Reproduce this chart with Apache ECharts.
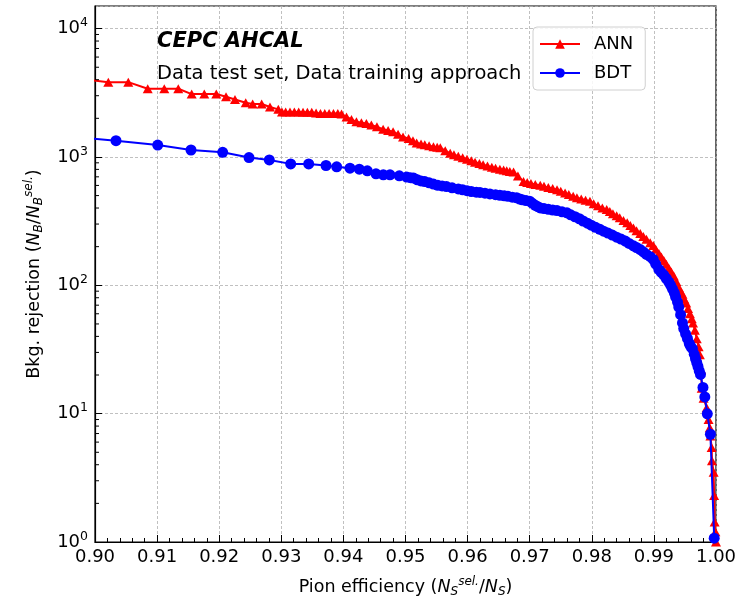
<!DOCTYPE html>
<html>
<head>
<meta charset="utf-8">
<title>CEPC AHCAL ROC</title>
<script src="https://cdn.jsdelivr.net/npm/echarts@6.0.0/dist/echarts.min.js"></script>
<style>
  html, body { margin: 0; padding: 0; background: #fff; }
  #main { width: 756px; height: 603px; }
</style>
</head>
<body>
<div id="main"></div>
<script>
// ANN: pion efficiency / bkg rejection
var annEff = [0.8990, 0.90214, 0.90536, 0.90849, 0.91116, 0.91341, 0.91557, 0.91760, 0.91953, 0.92110,
  0.92254, 0.92427, 0.92539, 0.92684, 0.92818, 0.92952, 0.93011, 0.9307, 0.9314, 0.9321, 0.9328,
  0.9335, 0.9342, 0.9349, 0.9356, 0.9363, 0.9370, 0.9377, 0.9384, 0.9391, 0.9397,
  0.9405, 0.9413, 0.9421, 0.9429, 0.9437, 0.9445, 0.9454, 0.9464, 0.9472, 0.9480,
  0.9488, 0.9496, 0.9505, 0.9512, 0.9518, 0.9525, 0.9531, 0.9538, 0.9545, 0.9551,
  0.9556, 0.9564, 0.9572, 0.9578, 0.9585, 0.9592, 0.9599, 0.9606, 0.9612, 0.9619,
  0.9625, 0.9632, 0.9639, 0.9645, 0.9652, 0.9658, 0.9663, 0.9668, 0.9674, 0.9681,
  0.9690, 0.9696, 0.9702, 0.9709, 0.9717, 0.9723, 0.9730, 0.9737, 0.9744, 0.9750,
  0.9757, 0.9763, 0.9770, 0.9776, 0.9783, 0.9790, 0.9797, 0.9803, 0.9810, 0.9817,
  0.9824, 0.9829, 0.9834, 0.9840, 0.9845, 0.9851, 0.9857, 0.9862, 0.9867, 0.9872,
  0.9878, 0.9883, 0.9888, 0.9894, 0.9899, 0.9903, 0.9908, 0.9912, 0.9916, 0.9920,
  0.9924, 0.9928, 0.9932, 0.9936, 0.9940, 0.9943, 0.9946, 0.9949, 0.9952, 0.9955,
  0.9958, 0.9961, 0.9963, 0.9966, 0.9969, 0.9972, 0.9974, 0.9976, 0.9977, 0.9980,
  0.9985, 0.9988, 0.9990, 0.9991, 0.9993, 0.99935, 0.99962, 0.99970, 0.99978, 0.99990, 1.0000];
var annRej = [3990, 3825, 3825, 3396, 3396, 3396, 3090, 3090, 3090, 2945,
  2807, 2647, 2587, 2587, 2452, 2349, 2243, 2243, 2243, 2240, 2235,
  2230, 2230, 2225, 2200, 2185, 2180, 2180, 2180, 2176, 2160,
  2052, 1960, 1877, 1850, 1821, 1770, 1717, 1646, 1610, 1572,
  1500, 1430, 1395, 1340, 1283, 1262, 1243, 1222, 1203, 1190,
  1178, 1120, 1068, 1040, 1013, 985, 960, 935, 910, 888,
  868, 850, 833, 818, 803, 792, 782, 772, 762, 709,
  645, 632, 621, 611, 601, 590, 578, 567, 556, 540,
  524, 509, 494, 482, 471, 460, 452, 432, 416, 400,
  389, 375, 361, 348, 336, 320, 307, 293, 279, 266,
  253, 240, 228, 215, 204, 191, 177, 166, 156, 146,
  136, 127, 118, 107, 96.7, 90, 85.3, 78, 72.7, 66,
  60.1, 55, 50.9, 44.7, 38.3, 33.2, 28.8, 22.1, 15.8, 13.2,
  11.1, 9.02, 7.77, 6.70, 5.44, 4.30, 3.49, 2.30, 1.43, 1.20, 1.00];

// BDT
var bdtEff = [0.8985, 0.90338, 0.91010, 0.91546, 0.92056, 0.92480, 0.92807, 0.93151, 0.93441, 0.93720,
  0.93892, 0.94106, 0.94256, 0.94385, 0.94525, 0.94643, 0.94750, 0.94900, 0.95019,
  0.9508, 0.9513, 0.9519, 0.9525, 0.9531, 0.9538, 0.9545, 0.9552, 0.9559, 0.9566,
  0.9575, 0.9585, 0.9592, 0.9599, 0.9606, 0.9614, 0.9620, 0.9628, 0.9636, 0.9645,
  0.9652, 0.9659, 0.9665, 0.9672, 0.9679, 0.9684, 0.9688, 0.9694, 0.9700, 0.9704,
  0.9709, 0.9713, 0.9717, 0.9723, 0.9730, 0.9737, 0.9744, 0.9752, 0.9760, 0.9766,
  0.9773, 0.9780, 0.9786, 0.9793, 0.9799, 0.9806, 0.9813, 0.9819, 0.9826, 0.9833,
  0.9840, 0.9847, 0.9854, 0.9860, 0.9867, 0.9872, 0.9878, 0.9883, 0.9888, 0.9894,
  0.9899, 0.9903, 0.9908, 0.9912, 0.9916, 0.9920, 0.9924, 0.9927, 0.9930, 0.9933,
  0.9935, 0.9938, 0.9940, 0.9943, 0.9946, 0.9948, 0.9951, 0.9954, 0.9957, 0.9959,
  0.9962, 0.9965, 0.9967, 0.9969, 0.9971, 0.9973, 0.9975, 0.9979, 0.9982, 0.9986,
  0.9991, 0.99971];
var bdtRej = [1405, 1339, 1238, 1133, 1087, 989, 948, 883, 883, 858,
  837, 818, 803, 779, 739, 726, 726, 713, 697,
  690, 685, 664, 650, 643, 629, 615, 601, 595, 588,
  575, 563, 555, 546, 538, 532, 529, 522, 515, 508,
  503, 498, 493, 486, 480, 470, 463, 457, 452, 436,
  420, 410, 401, 396, 391, 386, 382, 374, 367, 354,
  342, 330, 317, 305, 294, 283, 273, 264, 255, 246,
  237, 229, 221, 212, 203, 197, 190, 182, 174, 167,
  159, 146, 133, 126, 120, 113, 106, 100, 93.3, 87,
  80.9, 74, 67.7, 59, 50.9, 46, 41.9, 38.5, 35.2, 33.5,
  32.1, 29, 26.8, 25, 23.3, 21.5, 20.2, 16.0, 13.5, 9.97,
  6.91, 1.07];

var decades = [1, 10, 100, 1000];
var minorSteps = [2, 3, 4, 5, 6, 7, 8, 9];

function zip(a, b) {
    var out = [];
    for (var i = 0; i < a.length; i++) out.push([a[i], b[i]]);
    return out;
}

var minorTicks = [];
decades.forEach(function (d) {
    minorSteps.forEach(function (m) { minorTicks.push([0.9, d * m]); });
});

var font = 'DejaVu Sans';
var myChart = echarts.init(document.getElementById('main'), null, {renderer: 'canvas'});

var option = {
    animation: false,
    backgroundColor: '#fff',
    textStyle: {fontFamily: font},
    grid: {
        left: 95, right: 40, top: 6, bottom: 57,
        show: true, borderColor: '#000', borderWidth: 1.2, backgroundColor: 'transparent'
    },
    legend: {
        data: ['ANN', 'BDT'],
        orient: 'vertical',
        left: 533, top: 27,
        itemWidth: 40, itemHeight: 12, itemGap: 11,
        padding: [8, 12, 8, 6],
        borderColor: '#d0d0d0', borderWidth: 1, borderRadius: 4,
        backgroundColor: 'rgba(255,255,255,0.85)',
        textStyle: {fontFamily: font, fontSize: 18, color: '#000', padding: [0, 0, 0, 9]}
    },
    graphic: [
        {type: 'text', left: 157, top: 31, z: 10,
         style: {text: 'CEPC AHCAL', font: 'italic bold 21px "DejaVu Sans"', fill: '#000'}},
        {type: 'text', left: 157, top: 64, z: 10,
         style: {text: 'Data test set, Data training approach', font: '19.5px "DejaVu Sans"', fill: '#000'}}
    ],
    xAxis: {
        type: 'value', min: 0.9, max: 1.0, interval: 0.01,
        name: '{n|Pion efficiency (}{i|N}{sub|S}{sup|sel.}{n|/}{i|N}{sub|S}{n|)}',
        nameLocation: 'middle', nameGap: 34,
        nameTextStyle: {
            rich: {
                n: {fontFamily: font, fontSize: 17.5, color: '#000'},
                i: {fontFamily: font, fontSize: 17.5, fontStyle: 'italic', color: '#000'},
                sub: {fontFamily: font, fontSize: 12, fontStyle: 'italic', color: '#000', padding: [9, 0, 0, 0]},
                sup: {fontFamily: font, fontSize: 12, fontStyle: 'italic', color: '#000', padding: [0, 0, 11, 0]}
            }
        },
        axisLine: {show: true, onZero: false, lineStyle: {color: '#000', width: 1.2}},
        axisTick: {show: true, inside: true, length: 7, lineStyle: {color: '#000', width: 1}},
        minorTick: {show: true, splitNumber: 5, length: 4, lineStyle: {color: '#000', width: 1}},
        axisLabel: {
            color: '#000', fontSize: 18, fontFamily: font, margin: 6,
            formatter: function (v) { return v.toFixed(2); }
        },
        splitLine: {show: true, lineStyle: {color: '#b0b0b0', width: 0.8, type: [3, 2]}}
    },
    yAxis: {
        type: 'log', logBase: 10, min: 1, max: 15000,
        name: '{n|Bkg. rejection (}{i|N}{sub|B}{n|/}{i|N}{sub|B}{sup|sel.}{n|)}',
        nameLocation: 'middle', nameRotate: 90, nameGap: 49,
        nameTextStyle: {
            rich: {
                n: {fontFamily: font, fontSize: 17.5, color: '#000'},
                i: {fontFamily: font, fontSize: 17.5, fontStyle: 'italic', color: '#000'},
                sub: {fontFamily: font, fontSize: 12, fontStyle: 'italic', color: '#000', padding: [9, 0, 0, 0]},
                sup: {fontFamily: font, fontSize: 12, fontStyle: 'italic', color: '#000', padding: [0, 0, 11, 0]}
            }
        },
        axisLine: {show: true, lineStyle: {color: '#000', width: 1.2}},
        axisTick: {show: true, inside: true, length: 7, lineStyle: {color: '#000', width: 1}},
        axisLabel: {
            showMaxLabel: false, margin: 7,
            formatter: function (v) {
                return '{b|10}{s|' + Math.round(Math.log10(v)) + '}';
            },
            rich: {
                b: {fontFamily: font, fontSize: 18, color: '#000'},
                s: {fontFamily: font, fontSize: 12.5, color: '#000', padding: [0, 0, 11, 0]}
            }
        },
        splitLine: {show: true, lineStyle: {color: '#b0b0b0', width: 0.8, type: [3, 2]}}
    },
    series: [
        {
            name: 'ANN', type: 'line', data: zip(annEff, annRej),
            symbol: 'triangle', symbolSize: [10, 9], showAllSymbol: true,
            color: '#ff0000',
            lineStyle: {color: '#ff0000', width: 2},
            itemStyle: {color: '#ff0000'},
            clip: true, z: 3
        },
        {
            name: 'BDT', type: 'line', data: zip(bdtEff, bdtRej),
            symbol: 'circle', symbolSize: 11, showAllSymbol: true,
            color: '#0000ff',
            lineStyle: {color: '#0000ff', width: 2},
            itemStyle: {color: '#0000ff'},
            clip: true, z: 4
        },
        {
            // minor log ticks at 2..9 x 10^n on the left axis
            type: 'custom', silent: true, clip: false, z: 5,
            data: minorTicks,
            renderItem: function (params, api) {
                var p = api.coord([api.value(0), api.value(1)]);
                return {
                    type: 'line',
                    shape: {x1: p[0], y1: p[1], x2: p[0] + 4, y2: p[1]},
                    style: {stroke: '#000', lineWidth: 1}
                };
            }
        }
    ]
};

myChart.setOption(option);
</script>
</body>
</html>
